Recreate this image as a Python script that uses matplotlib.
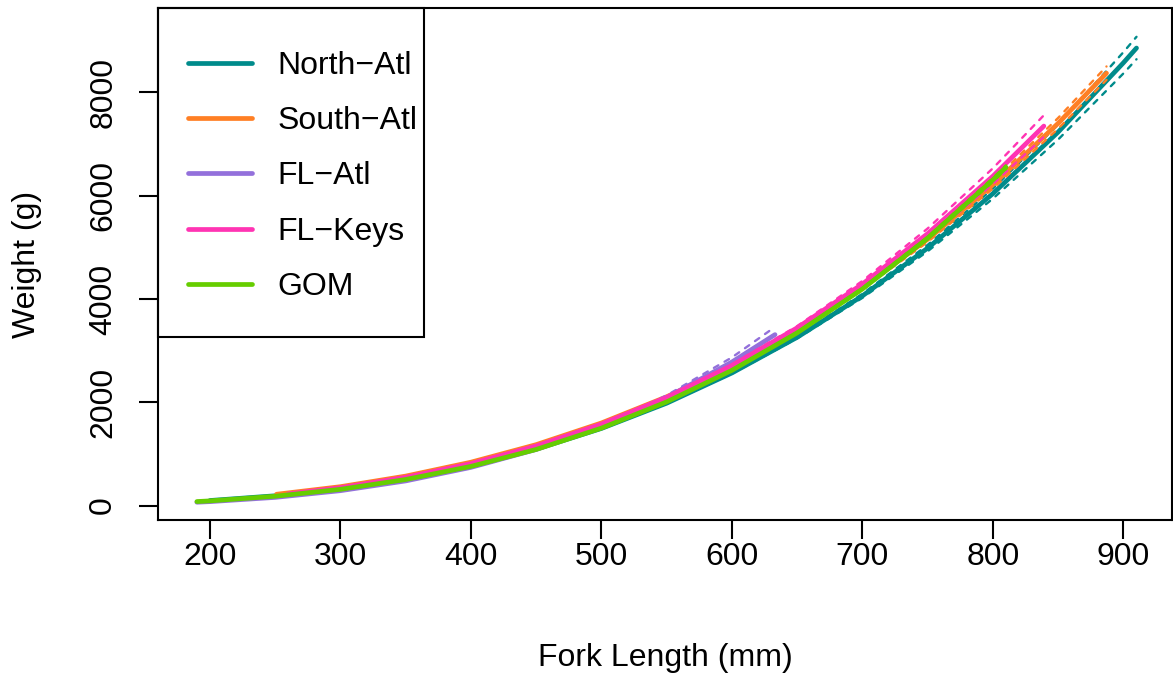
import matplotlib
matplotlib.use("Agg")
import matplotlib.pyplot as plt
from matplotlib.patches import Rectangle

# ---------------- data ----------------
regions = ["North\u2212Atl", "South\u2212Atl", "FL\u2212Atl", "FL\u2212Keys", "GOM"]
colors = ["#008B8B", "#FF7F24", "#9370DB", "#FF34B3", "#66CD00"]

# North-Atl
na_len = [200, 250, 300, 350, 400, 450, 500, 550, 600, 650, 700, 750, 800, 850, 900, 910]
na_wt = [98, 190, 327, 517, 770, 1092, 1494, 1983, 2568, 3259, 4061, 4986, 6041, 7233, 8574, 8859]
na_lo = [96, 187, 323, 512, 765, 1087, 1488, 1976, 2556, 3238, 4022, 4924, 5944, 7088, 8368, 8642]
na_hi = [100, 193, 331, 522, 775, 1097, 1500, 1990, 2580, 3280, 4100, 5048, 6138, 7378, 8780, 9076]

# South-Atl
sa_len = [251, 300, 350, 400, 450, 500, 550, 600, 650, 700, 750, 800, 850, 887]
sa_wt = [219, 366, 571, 840, 1180, 1600, 2107, 2708, 3412, 4226, 5157, 6213, 7403, 8372]
sa_lo = [213, 359, 563, 832, 1172, 1592, 2097, 2695, 3390, 4192, 5105, 6138, 7299, 8242]
sa_hi = [224, 373, 579, 848, 1188, 1608, 2116, 2722, 3434, 4260, 5209, 6288, 7507, 8502]

# FL-Atl
fa_len = [190, 200, 250, 300, 350, 400, 450, 500, 550, 600, 633]
fa_wt = [65, 77, 159, 289, 478, 740, 1087, 1533, 2092, 2780, 3310]
fa_lo = [63, 75, 156, 285, 472, 732, 1077, 1515, 2050, 2691, 3161]
fa_hi = [67, 79, 162, 293, 484, 747, 1096, 1551, 2134, 2869, 3459]

# FL-Keys
fk_len = [260, 300, 350, 400, 450, 500, 550, 600, 650, 700, 750, 800, 839]
fk_wt = [226, 346, 547, 813, 1154, 1578, 2095, 2713, 3442, 4290, 5266, 6379, 7348]
fk_lo = [219, 338, 538, 803, 1143, 1565, 2079, 2691, 3408, 4230, 5166, 6226, 7139]
fk_hi = [233, 354, 556, 823, 1165, 1591, 2111, 2735, 3476, 4350, 5366, 6532, 7557]

# GOM
gm_len = [190, 200, 250, 300, 350, 400, 450, 500, 550, 600, 650, 700, 750, 800, 810]
gm_wt = [78, 91, 181, 315, 505, 759, 1087, 1500, 2008, 2619, 3345, 4194, 5179, 6307, 6550]
gm_lo = [77, 90, 179, 313, 501, 755, 1083, 1495, 2001, 2610, 3332, 4175, 5153, 6269, 6511]
gm_hi = [79, 93, 182, 318, 508, 763, 1091, 1505, 2015, 2628, 3358, 4213, 5205, 6345, 6589]

x_ticks = [200, 300, 400, 500, 600, 700, 800, 900]
y_ticks = [0, 2000, 4000, 6000, 8000]

# ---------------- figure ----------------
plt.rcParams["font.family"] = ["Liberation Sans", "DejaVu Sans"]
FS = 23

W_PX, H_PX = 1173, 681
fig = plt.figure(figsize=(W_PX / 100, H_PX / 100), dpi=100)
ax = fig.add_axes([158 / W_PX, 1 - 520 / H_PX, (1172 - 158) / W_PX, (520 - 8) / H_PX])

series = [
    (na_len, na_wt, na_lo, na_hi),
    (sa_len, sa_wt, sa_lo, sa_hi),
    (fa_len, fa_wt, fa_lo, fa_hi),
    (fk_len, fk_wt, fk_lo, fk_hi),
    (gm_len, gm_wt, gm_lo, gm_hi),
]

handles = []
for (L, Wt, lo, hi), col, name in zip(series, colors, regions):
    h, = ax.plot(L, Wt, color=col, lw=3.4, solid_capstyle="round",
                 solid_joinstyle="round", label=name)
    for band in (lo, hi):
        ax.plot(L, band, color=col, lw=1.7, linestyle=(0, (2.2, 3.0)),
                dash_capstyle="round")
    handles.append(h)

ax.set_xlim(160.2, 937.2)
ax.set_ylim(-279, 9634)
ax.set_xticks(x_ticks)
ax.set_yticks(y_ticks)
ax.set_xticklabels([str(v) for v in x_ticks])
ax.set_yticklabels([str(v) for v in y_ticks], rotation=90, va="center")

for s in ax.spines.values():
    s.set_linewidth(1.5)
    s.set_color("black")
ax.tick_params(axis="both", direction="out", length=13.7, width=1.5,
               labelsize=FS, colors="black")
ax.tick_params(axis="y", pad=15)
ax.tick_params(axis="x", pad=2)

ax.set_xlabel("Fork Length (mm)", fontsize=FS)
ax.set_ylabel("Weight (g)", fontsize=FS)
ax.xaxis.set_label_coords(0.5, (520 - 658) / 512)
ax.xaxis.label.set_va("center")
ax.yaxis.set_label_coords((27 - 158) / 1014, 0.5)
ax.yaxis.label.set_va("center")

# legend (frame drawn as a rectangle like R's legend box)
leg = ax.legend(handles=handles, loc="upper left",
                bbox_to_anchor=((188 - 158) / 1014, 1 - (51 - 8) / 512),
                frameon=False, fontsize=FS, handlelength=2.0,
                handletextpad=0.8, labelspacing=0.79, borderpad=0.0,
                borderaxespad=0.0)
ax.add_patch(Rectangle((0, 1 - (337 - 8) / 512), (424 - 158) / 1014,
                       (337 - 8) / 512, transform=ax.transAxes,
                       fill=False, edgecolor="black", lw=1.5, zorder=5,
                       clip_on=False))

fig.savefig("out.png", dpi=100)
